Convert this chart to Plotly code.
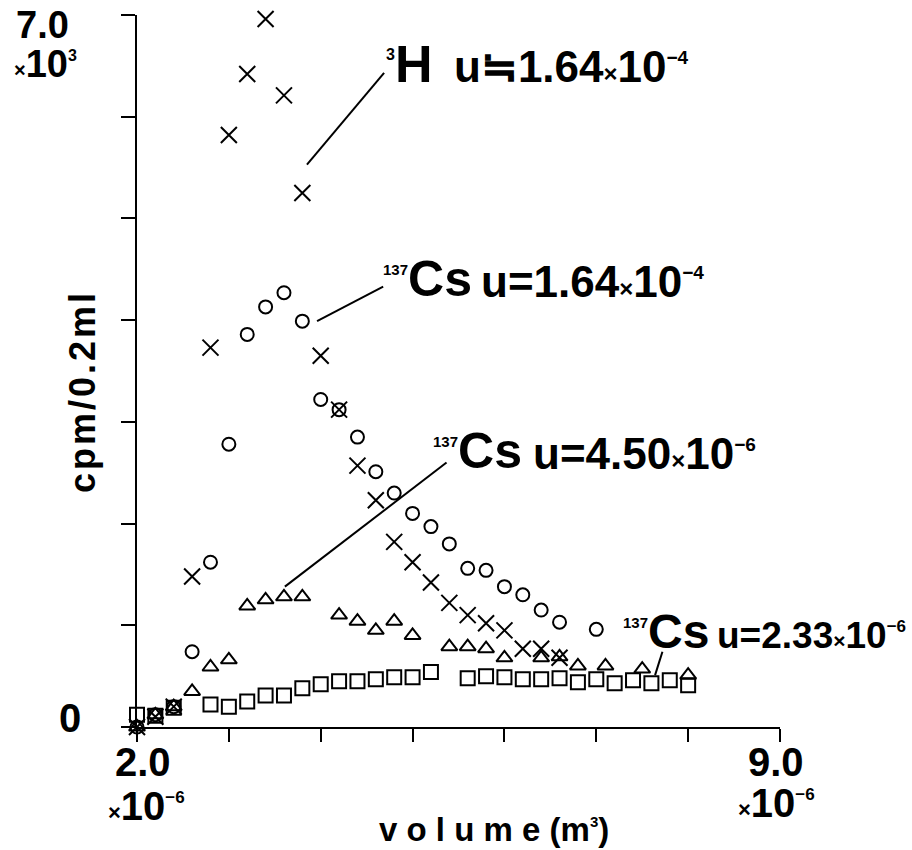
import plotly.graph_objects as go

# ---------------- data (x in 10^-6 m^3, y in 10^3 cpm/0.2ml) ----------------
h3_x = [2.0, 2.2, 2.4, 2.6, 2.8, 3.0, 3.2, 3.4, 3.6, 3.8, 4.0, 4.2, 4.4, 4.6,
        4.8, 5.0, 5.2, 5.4, 5.6, 5.8, 6.0, 6.2, 6.4, 6.6]
h3_y = [0.0, 0.10, 0.20, 1.48, 3.73, 5.82, 6.42, 6.96, 6.21, 5.25, 3.65, 3.12,
        2.57, 2.23, 1.82, 1.62, 1.42, 1.22, 1.10, 1.02, 0.95, 0.77, 0.77, 0.68]

cs_hi_x = [2.0, 2.2, 2.4, 2.6, 2.8, 3.0, 3.2, 3.4, 3.6, 3.8, 4.0, 4.2, 4.4, 4.6,
           4.8, 5.0, 5.2, 5.4, 5.6, 5.8, 6.0, 6.2, 6.4, 6.6, 7.0]
cs_hi_y = [0.0, 0.12, 0.20, 0.74, 1.62, 2.78, 3.86, 4.13, 4.27, 3.99, 3.22, 3.12,
           2.85, 2.51, 2.30, 2.10, 1.97, 1.80, 1.56, 1.54, 1.38, 1.30, 1.15, 1.03, 0.96]

cs_mid_x = [2.0, 2.2, 2.4, 2.6, 2.8, 3.0, 3.2, 3.4, 3.6, 3.8, 4.2, 4.4, 4.6, 4.8,
            5.0, 5.4, 5.6, 5.8, 6.0, 6.4, 6.6, 6.8, 7.1, 7.5, 8.0]
cs_mid_y = [0.0, 0.12, 0.20, 0.35, 0.59, 0.66, 1.19, 1.25, 1.28, 1.28, 1.10, 1.04,
            0.95, 1.04, 0.90, 0.79, 0.79, 0.77, 0.68, 0.68, 0.69, 0.60, 0.60, 0.57, 0.51]

cs_lo_x = [2.0, 2.2, 2.4, 2.8, 3.0, 3.2, 3.4, 3.6, 3.8, 4.0, 4.2, 4.4, 4.6, 4.8,
           5.0, 5.2, 5.6, 5.8, 6.0, 6.2, 6.4, 6.6, 6.8, 7.0, 7.2, 7.4, 7.6, 7.8, 8.0]
cs_lo_y = [0.12, 0.11, 0.19, 0.22, 0.20, 0.25, 0.31, 0.31, 0.38, 0.42, 0.45, 0.45,
           0.47, 0.49, 0.49, 0.54, 0.48, 0.50, 0.49, 0.47, 0.47, 0.48, 0.44, 0.47,
           0.43, 0.46, 0.43, 0.46, 0.41]

x_ticks = [2, 3, 4, 5, 6, 7, 8, 9]
y_ticks = [0, 1, 2, 3, 4, 5, 6, 7]

# leader lines: (x0, y0, x1, y1) in data units, from the points to the labels
leaders = [
    (3.85, 5.53, 4.69, 6.43),
    (3.96, 3.99, 4.68, 4.33),
    (3.61, 1.38, 5.37, 2.60),
    (7.64, 0.51, 7.72, 0.74),
]

# ---------------- layout helpers ----------------
W, H = 912, 850
L, R, T, B = 137, 132, 15, 123
FONT = "Liberation Sans, Arial, sans-serif"


def px(xp):
    return (xp - L) / (W - L - R)


def py(yp):
    return (H - B - yp) / (H - T - B)


fig = go.Figure()

mk_line = dict(color="black", width=2)
fig.add_trace(go.Scatter(x=cs_lo_x, y=cs_lo_y, mode="markers", cliponaxis=False,
                         marker=dict(symbol="square-open", size=14, color="black", line=mk_line)))
fig.add_trace(go.Scatter(x=cs_mid_x, y=cs_mid_y, mode="markers", cliponaxis=False,
                         marker=dict(symbol="triangle-up-open", size=14, color="black", line=mk_line)))
fig.add_trace(go.Scatter(x=cs_hi_x, y=cs_hi_y, mode="markers", cliponaxis=False,
                         marker=dict(symbol="circle-open", size=13, color="black", line=mk_line)))
fig.add_trace(go.Scatter(x=h3_x, y=h3_y, mode="markers", cliponaxis=False,
                         marker=dict(symbol="x-thin-open", size=16, color="black", line=mk_line)))

for (x0, y0, x1, y1) in leaders:
    fig.add_shape(type="line", xref="x", yref="y", x0=x0, y0=y0, x1=x1, y1=y1,
                  line=dict(color="black", width=2))

anns = []


def add_text(text, xp, yp, size, xanchor="center", yanchor="middle", angle=0):
    anns.append(dict(text=text, xref="paper", yref="paper", x=px(xp), y=py(yp),
                     xanchor=xanchor, yanchor=yanchor, showarrow=False, textangle=angle,
                     borderpad=0,
                     font=dict(family=FONT, size=size, color="black", weight="bold")))


def sup(t, s):
    return f"<sup><span style='font-size:{s}px'>{t}</span></sup>"


def sz(t, s):
    return f"<span style='font-size:{s}px'>{t}</span>"


# axis tick texts
add_text("7.0", 42, 25, 38)
add_text(sz("×", 20) + "10" + sup("3", 16), 45, 64, 38)
add_text("0", 70, 718, 40)
add_text("2.0", 143, 762, 40)
add_text(sz("×", 22) + "10" + sup("−6", 17), 146, 806, 40)
add_text("9.0", 776, 762, 40)
add_text(sz("×", 22) + "10" + sup("−6", 17), 776, 803, 40)

# axis titles
add_text("v o l u m e (m" + sup("3", 15) + ")", 494, 829, 33)
HS = "\u200a"
add_text(HS.join("cpm/0.2ml"), 82, 393, 36, angle=-90)

# series labels: isotope part (left-aligned) and coefficient part (right-aligned)
add_text(sup("3", 16) + "H", 385, 64, 52, xanchor="left")
add_text("u≒1.64" + sz("×", 24) + "10" + sup("−4", 19), 690, 67, 44, xanchor="right")

add_text(sup("137", 15) + "Cs", 382, 279, 50, xanchor="left")
add_text("u=1.64" + sz("×", 24) + "10" + sup("−4", 19), 705, 281, 44, xanchor="right")

add_text(sup("137", 15) + "Cs", 432, 451, 50, xanchor="left")
add_text("u=4.50" + sz("×", 24) + "10" + sup("−6", 19), 757, 453, 44, xanchor="right")

add_text(sup("137", 15) + "Cs", 622, 631, 48, xanchor="left")
add_text("u=2.33" + sz("×", 21) + "10" + sup("−6", 17), 907, 635, 37, xanchor="right")

fig.update_layout(
    width=W, height=H, autosize=False,
    margin=dict(l=L, r=R, t=T, b=B, pad=0),
    paper_bgcolor="white", plot_bgcolor="white",
    showlegend=False,
    annotations=anns,
    xaxis=dict(range=[2, 9], tickvals=x_ticks, showticklabels=False, ticks="outside",
               ticklen=13, tickwidth=2, tickcolor="black", showline=True, linecolor="black",
               linewidth=2, showgrid=False, zeroline=False, fixedrange=True),
    yaxis=dict(range=[0, 7], tickvals=y_ticks, showticklabels=False, ticks="outside",
               ticklen=14, tickwidth=2, tickcolor="black", showline=True, linecolor="black",
               linewidth=2, showgrid=False, zeroline=False, fixedrange=True),
)

fig.write_html("out.html", config={"displayModeBar": False},
               post_script="document.body.style.margin='0px';document.body.style.overflow='hidden';")
